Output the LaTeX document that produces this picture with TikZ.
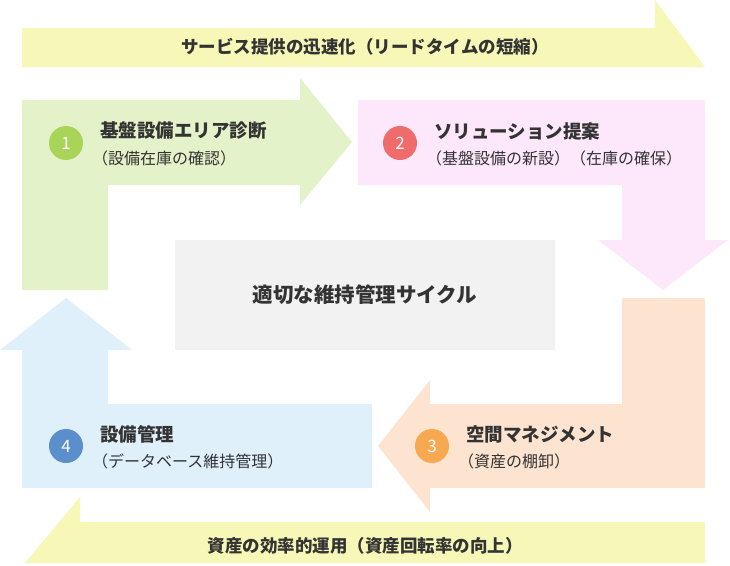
\documentclass[tikz,border=0pt]{standalone}
\usepackage{fontspec}
\setmainfont{Noto Sans CJK JP}
\definecolor{ban}{HTML}{F7F7B8}
\definecolor{gr}{HTML}{E3F2C8}
\definecolor{pk}{HTML}{FDE8FB}
\definecolor{og}{HTML}{FDE4D0}
\definecolor{bl}{HTML}{DFF0FA}
\definecolor{gy}{HTML}{F2F2F2}
\definecolor{c1}{HTML}{A8D458}
\definecolor{c2}{HTML}{F06B6B}
\definecolor{c3}{HTML}{F7A850}
\definecolor{c4}{HTML}{5B8FCC}
\definecolor{tx}{HTML}{333333}
\begin{document}
\begin{tikzpicture}[x=1pt,y=-1pt,
  num/.style={circle,minimum size=34pt,inner sep=0pt,text=white,font=\fontsize{17}{17}\selectfont},
  ttl/.style={anchor=west,text=tx,font=\bfseries\fontsize{18.5}{20}\selectfont,inner sep=0pt},
  sub/.style={anchor=west,text=tx,font=\fontsize{16}{18}\selectfont,inner sep=0pt},
  band/.style={text=tx,font=\bfseries\fontsize{17.5}{20}\selectfont}]
\useasboundingbox (0,0) rectangle (730,565);
\fill[ban] (22,28)--(655,28)--(655,0)--(705,67)--(22,67)--cycle;
\fill[ban] (705,522)--(705,563)--(25,563)--(80,497)--(80,522)--cycle;
\fill[gr] (22,290)--(22,100)--(300,100)--(300,78)--(352,142)--(300,205)--(300,185)--(108,185)--(108,290)--cycle;
\fill[pk] (358,100)--(705,100)--(705,240)--(728,240)--(663,290)--(598,240)--(622,240)--(622,185)--(358,185)--cycle;
\fill[og] (705,298)--(705,488)--(430,488)--(430,512)--(378,446)--(430,380)--(430,404)--(622,404)--(622,298)--cycle;
\fill[bl] (372,404)--(372,488)--(22,488)--(22,350)--(0,350)--(66,298)--(132,350)--(108,350)--(108,404)--cycle;
\node[fill=gy,minimum width=380pt,minimum height=110pt,inner sep=0pt,text=tx,font=\bfseries\fontsize{20.5}{22}\selectfont] (c) at (365,295) {適切な維持管理サイクル};
\node[band] (t) at (365,47) {サービス提供の迅速化（リードタイムの短縮）};
\node[band] (b) at (365,546) {資産の効率的運用（資産回転率の向上）};
\node[num,fill=c1] (n1) at (66,143) {1};
\node[ttl] (t1) at (100,131) {基盤設備エリア診断};
\node[sub] (s1) at (92,158) {（設備在庫の確認）};
\node[num,fill=c2] (n2) at (400,143) {2};
\node[ttl] (t2) at (434,131) {ソリューション提案};
\node[sub] (s2) at (426,158) {（基盤設備の新設）（在庫の確保）};
\node[num,fill=c3] (n3) at (432,446) {3};
\node[ttl] (t3) at (466,434) {空間マネジメント};
\node[sub] (s3) at (458,461) {（資産の棚卸）};
\node[num,fill=c4] (n4) at (66,446) {4};
\node[ttl] (t4) at (100,434) {設備管理};
\node[sub] (s4) at (92,461) {（データベース維持管理）};
\end{tikzpicture}
\end{document}
